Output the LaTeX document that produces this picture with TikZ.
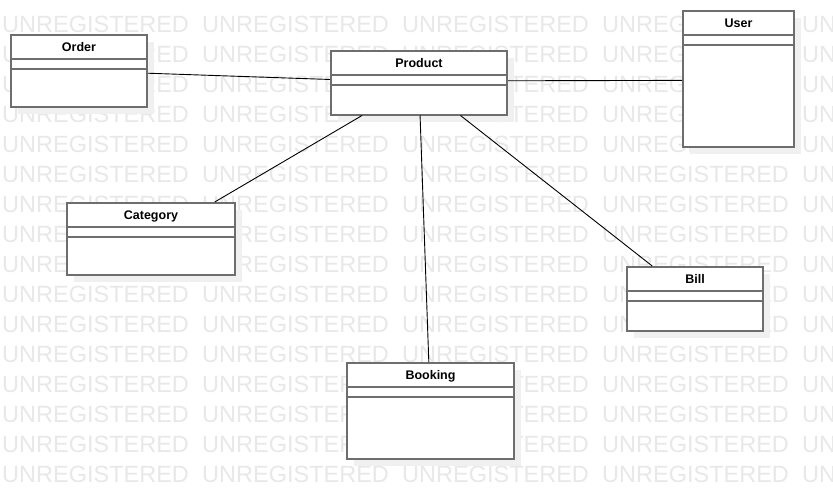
\documentclass[tikz,border=0pt]{standalone}
\usepackage{fontspec}
\setmainfont{Liberation Sans}
\usetikzlibrary{calc,shadows}
\tikzset{
  wm/.style={font=\fontsize{23.5}{23.5}\selectfont, text=black!9, anchor=base west, inner sep=0pt},
  umlbox/.style={draw=black!57, line width=2pt, fill=white, anchor=north west, inner sep=0pt,
    drop shadow={shadow xshift=7pt, shadow yshift=-7pt, opacity=1, fill=black!6}},
  divider/.style={draw=black!57, line width=2pt},
  umltitle/.style={font=\bfseries\fontsize{12.5}{12.5}\selectfont, inner sep=0pt, anchor=base},
  assoc/.style={draw=black, line width=0.9pt},
}
\newcommand\umlclass[6]{%
  \node[umlbox, minimum width=#4pt, minimum height=#5pt] (#1) at (#2,#3) {};
  \draw[divider] ([yshift=-24.7pt]#1.north west) -- ([yshift=-24.7pt]#1.north east);
  \draw[divider] ([yshift=-34.7pt]#1.north west) -- ([yshift=-34.7pt]#1.north east);
  \node[umltitle] (#1-title) at ([yshift=-17.3pt]#1.north) {#6};
}
\begin{document}
\begin{tikzpicture}[x=1pt,y=-1pt]
  \useasboundingbox (0,0) rectangle (833,498);
  \clip (0,0) rectangle (833,498);
  \fill[white] (0,0) rectangle (833,498);
  % watermark
  \foreach \r in {0,...,15}{
    \foreach \c in {0,...,4}{
      \node[wm] (wm-\r-\c) at ({2+200*\c},{32+30*\r}) {UNREGISTERED};
    }
  }
  % classes
  \umlclass{order}{10}{34}{136}{72}{Order}
  \umlclass{product}{330}{50}{176}{63.5}{Product}
  \umlclass{user}{682}{10}{111}{136}{User}
  \umlclass{category}{66}{202}{168}{71.5}{Category}
  \umlclass{booking}{346}{362}{167}{96}{Booking}
  \umlclass{bill}{626}{266}{136}{63.5}{Bill}
  % associations
  \draw[assoc] ($(order.north east)!0.53!(order.south east)$) -- ($(product.north west)!0.45!(product.south west)$);
  \draw[assoc] ($(product.north east)!0.47!(product.south east)$) -- ($(user.north west)!0.51!(user.south west)$);
  \draw[assoc] ($(product.south west)!0.18!(product.south east)$) -- ($(category.north west)!0.875!(category.north east)$);
  \draw[assoc] ($(product.south west)!0.506!(product.south east)$) -- ($(booking.north west)!0.49!(booking.north east)$);
  \draw[assoc] ($(product.south west)!0.733!(product.south east)$) -- ($(bill.north west)!0.19!(bill.north east)$);
\end{tikzpicture}
\end{document}
